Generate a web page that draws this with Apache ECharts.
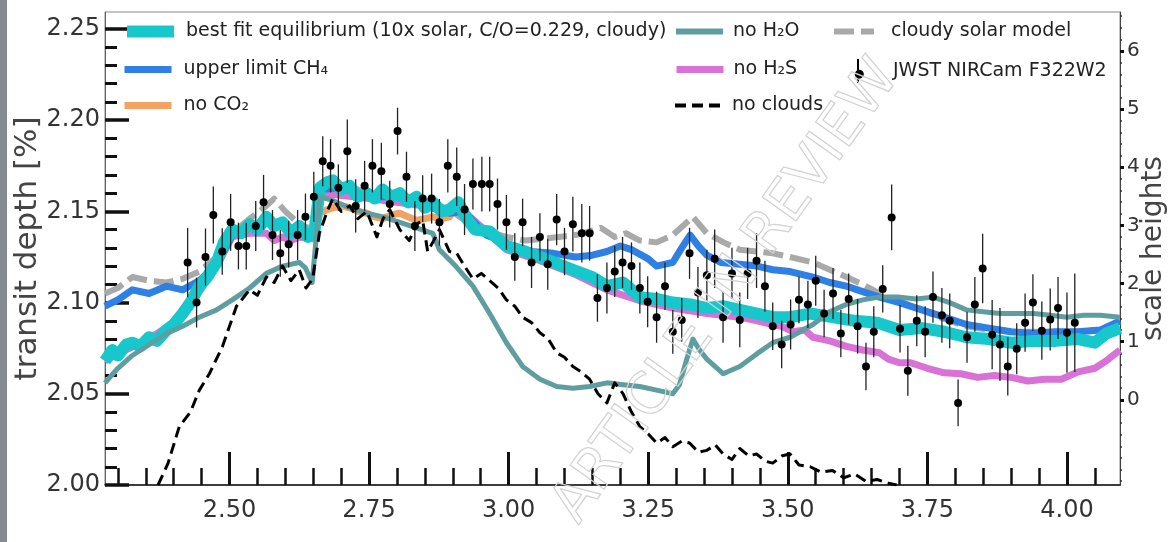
<!DOCTYPE html>
<html>
<head>
<meta charset="utf-8">
<script src="https://cdn.jsdelivr.net/npm/echarts@6/dist/echarts.min.js"></script>
<style>
html,body{margin:0;padding:0;background:#fff;}
#chart{width:1168px;height:542px;}
</style>
</head>
<body>
<div id="chart"></div>
<script>
// ---------- data ----------
const bestFitX = [2.277,2.29,2.30,2.315,2.326,2.34,2.356,2.37,2.387,2.40,2.416,2.43,2.446,2.46,2.477,2.49,2.505,2.52,2.536,2.55,2.566,2.58,2.595,2.61,2.625,2.64,2.652,2.662,2.675,2.685,2.70,2.715,2.73,2.746,2.76,2.774,2.79,2.805,2.82,2.835,2.85,2.864,2.88,2.894,2.91,2.925,2.94,2.966,2.996,3.03,3.056,3.09,3.115,3.15,3.176,3.205,3.235,3.265,3.294,3.325,3.355,3.385,3.414,3.445,3.473,3.504,3.54,3.58,3.62,3.66,3.70,3.74,3.78,3.82,3.86,3.90,3.94,3.98,4.02,4.05,4.07,4.095];
const bestFitY = [2.068,2.074,2.071,2.077,2.078,2.076,2.081,2.079,2.085,2.088,2.094,2.100,2.109,2.114,2.122,2.133,2.140,2.138,2.143,2.140,2.147,2.142,2.144,2.138,2.142,2.136,2.139,2.163,2.166,2.167,2.162,2.164,2.158,2.160,2.157,2.162,2.158,2.160,2.155,2.158,2.152,2.155,2.150,2.151,2.155,2.146,2.140,2.139,2.131,2.128,2.125,2.121,2.118,2.114,2.109,2.111,2.103,2.102,2.100,2.099,2.097,2.098,2.096,2.094,2.092,2.092,2.094,2.092,2.090,2.089,2.085,2.086,2.084,2.081,2.080,2.078,2.079,2.079,2.080,2.078,2.083,2.086];

const ch4X = [2.277,2.30,2.326,2.356,2.387,2.416,2.446,2.477,2.505,2.536,2.566,2.595,2.625,2.649,2.662,2.70,2.75,2.80,2.85,2.894,2.92,2.96,3.00,3.04,3.08,3.12,3.15,3.176,3.20,3.22,3.25,3.265,3.294,3.31,3.325,3.34,3.355,3.38,3.414,3.445,3.473,3.504,3.545,3.575,3.605,3.634,3.664,3.70,3.74,3.78,3.82,3.86,3.90,3.94,3.98,4.02,4.06,4.095];
const ch4Y = [2.098,2.1015,2.107,2.105,2.109,2.107,2.112,2.121,2.137,2.141,2.145,2.142,2.140,2.137,2.162,2.163,2.158,2.158,2.153,2.149,2.150,2.137,2.132,2.128,2.127,2.125,2.126,2.128,2.131,2.129,2.124,2.120,2.122,2.130,2.137,2.131,2.126,2.122,2.121,2.120,2.118,2.117,2.114,2.111,2.109,2.106,2.103,2.100,2.096,2.092,2.088,2.086,2.084,2.083,2.084,2.084,2.085,2.090];

const noCO2X = [2.277,2.29,2.30,2.315,2.326,2.34,2.356,2.37,2.387,2.40,2.416,2.43,2.446,2.46,2.477,2.49,2.505,2.52,2.536,2.55,2.566,2.58,2.595,2.61,2.625,2.64,2.652,2.662,2.675,2.685,2.70,2.715,2.73,2.746,2.76,2.774,2.79,2.805,2.82,2.835,2.85,2.864,2.88,2.894,2.91,2.925,2.94,2.966,2.996,3.03,3.056,3.09,3.115,3.15,3.176,3.205,3.235,3.265,3.294,3.325,3.355,3.385,3.414,3.445,3.473,3.504,3.54,3.58,3.62,3.66,3.70,3.74,3.78,3.82,3.86,3.90,3.94,3.98,4.02,4.05,4.07,4.095];
const noCO2Y = [2.068,2.074,2.071,2.077,2.078,2.076,2.081,2.079,2.085,2.088,2.094,2.100,2.109,2.114,2.122,2.133,2.140,2.138,2.143,2.140,2.147,2.142,2.144,2.138,2.142,2.136,2.139,2.149,2.151,2.152,2.153,2.152,2.150,2.149,2.147,2.146,2.148,2.149,2.147,2.145,2.146,2.147,2.146,2.147,2.155,2.146,2.140,2.139,2.131,2.128,2.125,2.121,2.118,2.114,2.109,2.111,2.103,2.102,2.100,2.099,2.097,2.098,2.096,2.094,2.092,2.092,2.094,2.092,2.090,2.089,2.085,2.086,2.084,2.081,2.080,2.078,2.079,2.079,2.080,2.078,2.083,2.086];

const noH2OX = [2.277,2.30,2.326,2.356,2.387,2.416,2.446,2.477,2.505,2.536,2.566,2.595,2.625,2.636,2.648,2.662,2.685,2.715,2.746,2.775,2.805,2.835,2.864,2.876,2.905,2.936,2.966,2.996,3.025,3.056,3.086,3.115,3.145,3.176,3.205,3.235,3.265,3.294,3.306,3.318,3.330,3.342,3.355,3.384,3.414,3.445,3.473,3.504,3.545,3.575,3.605,3.634,3.664,3.70,3.73,3.76,3.79,3.82,3.85,3.88,3.91,3.94,3.97,4.00,4.03,4.06,4.095];
const noH2OY = [2.056,2.064,2.071,2.077,2.083,2.087,2.092,2.096,2.1015,2.108,2.116,2.120,2.122,2.119,2.111,2.158,2.156,2.152,2.149,2.147,2.144,2.141,2.138,2.129,2.120,2.109,2.094,2.078,2.065,2.058,2.054,2.053,2.054,2.056,2.055,2.054,2.052,2.050,2.055,2.068,2.080,2.074,2.069,2.061,2.065,2.072,2.078,2.081,2.088,2.095,2.099,2.1015,2.103,2.103,2.102,2.103,2.100,2.096,2.095,2.094,2.094,2.094,2.093,2.092,2.093,2.093,2.092];

const noH2SX = [2.277,2.30,2.35,2.40,2.446,2.477,2.505,2.536,2.566,2.58,2.595,2.61,2.625,2.649,2.662,2.75,2.85,2.92,2.996,3.056,3.115,3.176,3.235,3.294,3.355,3.414,3.445,3.473,3.489,3.51,3.53,3.545,3.575,3.605,3.634,3.664,3.68,3.70,3.72,3.75,3.78,3.81,3.84,3.87,3.90,3.93,3.96,3.99,4.02,4.05,4.07,4.095];
const noH2SY = [2.068,2.072,2.079,2.089,2.106,2.120,2.136,2.138,2.138,2.134,2.136,2.134,2.136,2.135,2.160,2.157,2.153,2.150,2.129,2.123,2.116,2.107,2.101,2.097,2.094,2.092,2.090,2.088,2.087,2.084,2.085,2.081,2.079,2.076,2.074,2.0725,2.069,2.067,2.067,2.064,2.0615,2.061,2.059,2.060,2.059,2.057,2.058,2.058,2.062,2.064,2.068,2.074];

const noCloudsX = [2.372,2.39,2.41,2.43,2.446,2.464,2.4875,2.5125,2.536,2.55,2.566,2.58,2.595,2.61,2.625,2.637,2.649,2.661,2.675,2.685,2.70,2.715,2.73,2.746,2.764,2.775,2.787,2.805,2.822,2.835,2.846,2.855,2.864,2.876,2.894,2.907,2.921,2.936,2.951,2.966,2.981,2.996,3.011,3.025,3.041,3.056,3.071,3.086,3.10,3.115,3.13,3.145,3.16,3.176,3.19,3.205,3.22,3.235,3.25,3.265,3.28,3.294,3.31,3.324,3.34,3.355,3.37,3.384,3.40,3.414,3.43,3.444,3.46,3.473,3.49,3.504,3.52,3.54,3.56,3.58,3.60,3.62,3.64,3.66,3.68,3.695];
const noCloudsY = [2.000,2.012,2.032,2.040,2.052,2.061,2.076,2.098,2.107,2.104,2.114,2.111,2.120,2.112,2.118,2.108,2.113,2.138,2.150,2.157,2.150,2.153,2.146,2.150,2.136,2.146,2.151,2.140,2.134,2.143,2.145,2.128,2.133,2.140,2.128,2.127,2.120,2.113,2.116,2.112,2.108,2.1015,2.098,2.092,2.089,2.0835,2.080,2.0725,2.070,2.065,2.062,2.058,2.050,2.045,2.056,2.050,2.040,2.032,2.028,2.023,2.026,2.021,2.024,2.023,2.018,2.019,2.022,2.017,2.014,2.020,2.016,2.017,2.013,2.012,2.016,2.017,2.011,2.010,2.007,2.008,2.004,2.006,2.002,2.003,2.001,2.000];

const solarX = [2.277,2.30,2.326,2.356,2.387,2.416,2.446,2.477,2.505,2.536,2.566,2.58,2.60,2.625,2.649,2.662,2.70,2.75,2.80,2.85,2.894,2.94,2.996,3.03,3.06,3.09,3.12,3.145,3.165,3.19,3.21,3.235,3.265,3.294,3.33,3.355,3.385,3.414,3.445,3.473,3.504,3.545,3.575,3.605,3.634,3.664,3.70,3.74,3.78,3.82,3.86,3.90,3.94,3.98,4.02,4.06,4.095];
const solarY = [2.105,2.108,2.114,2.112,2.111,2.113,2.117,2.125,2.138,2.146,2.153,2.157,2.150,2.143,2.140,2.164,2.165,2.160,2.159,2.155,2.151,2.141,2.136,2.134,2.135,2.136,2.137,2.139,2.141,2.136,2.138,2.134,2.133,2.137,2.147,2.138,2.133,2.129,2.128,2.127,2.125,2.122,2.118,2.114,2.110,2.105,2.101,2.096,2.091,2.087,2.085,2.084,2.084,2.084,2.084,2.085,2.088];

const obsX = [2.425,2.441,2.457,2.471,2.487,2.502,2.516,2.530,2.547,2.561,2.577,2.591,2.606,2.622,2.636,2.651,2.667,2.681,2.695,2.711,2.726,2.742,2.756,2.772,2.787,2.801,2.817,2.832,2.846,2.862,2.876,2.891,
  2.907,2.921,2.936,2.952,2.966,2.980,2.996,3.011,3.025,3.041,3.056,3.070,3.086,3.100,3.115,3.131,3.145,3.159,3.176,3.190,3.204,3.220,3.235,3.249,3.265,3.280,3.294,3.310,3.324,3.339,3.355,3.369,3.384,3.400,3.414,3.428,3.444,3.459,3.473,3.489,
  3.505,3.520,3.536,3.550,3.565,3.581,3.595,3.609,3.625,3.640,3.654,3.670,3.686,3.701,3.715,3.731,3.746,3.760,3.776,3.790,3.805,3.821,3.835,3.849,3.866,3.880,3.894,3.910,3.925,3.939,3.955,3.970,3.984,4.000,4.014];
const obsY = [2.122,2.100,2.125,2.148,2.128,2.144,2.131,2.131,2.142,2.155,2.137,2.127,2.132,2.137,2.147,2.158,2.1775,2.175,2.163,2.183,2.153,2.164,2.175,2.172,2.154,2.194,2.169,2.142,2.157,2.157,2.144,2.175,
  2.169,2.151,2.165,2.165,2.165,2.154,2.144,2.125,2.144,2.122,2.136,2.121,2.1455,2.128,2.143,2.138,2.138,2.1025,2.108,2.117,2.122,2.120,2.108,2.1005,2.092,2.109,2.084,2.0905,2.127,2.1055,2.115,2.124,2.092,2.116,2.0905,2.116,2.123,2.109,2.087,2.077,
  2.088,2.1015,2.099,2.112,2.094,2.105,2.083,2.102,2.087,2.065,2.084,2.1075,2.1467,2.0857,2.0626,2.090,2.084,2.103,2.093,2.090,2.045,2.081,2.099,2.1187,2.0824,2.077,2.065,2.0747,2.089,2.100,2.0846,2.0907,2.097,2.0835,2.089];
const obsErr = [0.019,0.0137,0.0156,0.0156,0.0128,0.0156,0.0128,0.0128,0.0137,0.015,0.0137,0.0128,0.0128,0.0137,0.0128,0.0137,0.0137,0.0146,0.0128,0.0174,0.0146,0.0137,0.0146,0.0156,0.0128,0.0128,0.0137,0.0137,0.0128,0.0137,0.0128,0.0146,
  0.016,0.014,0.014,0.015,0.015,0.014,0.015,0.013,0.013,0.014,0.013,0.014,0.014,0.013,0.015,0.016,0.015,0.013,0.014,0.014,0.014,0.013,0.014,0.014,0.014,0.013,0.012,0.012,0.014,0.014,0.014,0.016,0.014,0.014,0.015,0.014,0.015,0.014,0.013,0.013,
  0.0137,0.0128,0.013,0.0137,0.013,0.014,0.013,0.014,0.015,0.013,0.014,0.013,0.018,0.013,0.0137,0.014,0.014,0.014,0.015,0.015,0.0128,0.014,0.015,0.019,0.019,0.020,0.016,0.014,0.016,0.0156,0.016,0.017,0.017,0.022,0.027];

// axis ticks / labels
const xMajorTicks = [2.50,2.75,3.00,3.25,3.50,3.75,4.00];
const xMinorTicks = [2.30,2.35,2.40,2.45,2.55,2.60,2.65,2.70,2.80,2.85,2.90,2.95,3.05,3.10,3.15,3.20,3.30,3.35,3.40,3.45,3.55,3.60,3.65,3.70,3.80,3.85,3.90,3.95,4.05];
const yMajorTicks = [2.00,2.05,2.10,2.15,2.20,2.25];
const yMinorTicks = [2.01,2.02,2.03,2.04,2.06,2.07,2.08,2.09,2.11,2.12,2.13,2.14,2.16,2.17,2.18,2.19,2.21,2.22,2.23,2.24];
const shMajorTicks = [0,1,2,3,4,5,6];
const shMinorTicks = [-1.4,-1.2,-1.0,-0.8,-0.6,-0.4,-0.2,0.2,0.4,0.6,0.8,1.2,1.4,1.6,1.8,2.2,2.4,2.6,2.8,3.2,3.4,3.6,3.8,4.2,4.4,4.6,4.8,5.2,5.4,5.6,5.8,6.2,6.4,6.6];

const names = {
  best: 'best fit equilibrium (10x solar, C/O=0.229, cloudy)',
  ch4: 'upper limit CH\u2084',
  co2: 'no CO\u2082',
  h2o: 'no H\u2082O',
  h2s: 'no H\u2082S',
  clouds: 'no clouds',
  solar: 'cloudy solar model',
  obs: 'JWST NIRCam F322W2'
};

// ---------- chart ----------
const FONT = "'DejaVu Sans', sans-serif";
const X_MIN = 2.277, X_MAX = 4.095;
const Y_MIN = 2.00, Y_MAX = 2.2593;
const SH_MIN = -1.465, SH_MAX = 6.671;

function zip(xs, ys) {
  const n = Math.min(xs.length, ys.length);
  const out = [];
  for (let i = 0; i < n; i++) out.push([xs[i], ys[i]]);
  return out;
}
function lineSeries(name, xs, ys, color, width, dash, z) {
  return {
    type: 'line', name: name, data: zip(xs, ys),
    symbol: 'none', showSymbol: false, smooth: false, clip: true,
    lineStyle: { color: color, width: width, type: dash || 'solid', join: 'round', cap: 'butt' },
    itemStyle: { color: color },
    z: z, silent: true
  };
}

const obsData = [];
for (let i = 0; i < Math.min(obsX.length, obsY.length, obsErr.length); i++) {
  obsData.push([obsX[i], obsY[i], obsErr[i]]);
}

function leg(name, left, top, w, h, pad, lw, extra) {
  const l = {
    data: [Object.assign({ name: name }, extra || {})],
    left: left, top: top, orient: 'vertical', padding: 0,
    itemWidth: w, itemHeight: h, selectedMode: false,
    formatter: function (n) { return '{t|' + n + '}'; },
    textStyle: {
      fontFamily: FONT, fontSize: 19, color: '#222',
      rich: { t: { fontFamily: FONT, fontSize: 19, color: '#222', lineHeight: 22, padding: [0, 0, 0, pad] } }
    }
  };
  if (lw) {
    l.lineStyle = { width: lw };
    l.itemStyle = { opacity: 0 };
  } else {
    l.symbolKeepAspect = false;
  }
  return l;
}

const chart = echarts.init(document.getElementById('chart'), null, { renderer: 'canvas' });
const option = {
  animation: false,
  backgroundColor: '#ffffff',
  grid: { left: 105, right: 48, top: 12, bottom: 57, containLabel: false, outerBoundsMode: 'none',
    show: true, borderColor: '#888', borderWidth: 1, backgroundColor: 'transparent' },
  legend: [
    leg(names.best, 121, 22, 47, 14, 7, 12),
    leg(names.ch4, 121, 60, 47, 14, 7, 7),
    leg(names.co2, 121, 96, 47, 14, 7, 7),
    leg(names.h2o, 673, 22, 47, 14, 5, 6),
    leg(names.h2s, 673, 60, 47, 14, 5, 7),
    leg(names.clouds, 673, 96, 47, 14, 5, 4),
    leg(names.solar, 831, 22, 40, 14, 12, 6),
    leg(names.obs, 838, 59, 40, 24, 10, 0, { icon: 'path://M0,12 L0.01,12 L0.01,12.01 Z M40,12 L39.99,12 L39.99,12.01 Z M19,0 L21,0 L21,24 L19,24 Z M24.5,12 A4.5,4.5 0 1 1 24.49,11.99 Z' })
  ],
  xAxis: [
    {
      type: 'value', min: X_MIN, max: X_MAX, position: 'bottom',
      axisLine: { show: true, onZero: false, lineStyle: { color: '#111', width: 1.5 } },
      axisTick: { show: true, inside: true, length: 33, customValues: xMajorTicks, lineStyle: { color: '#111', width: 3 } },
      axisLabel: { show: true, customValues: xMajorTicks, margin: 14, fontFamily: FONT, fontSize: 24, color: '#333',
        formatter: function (v) { return v.toFixed(2); } },
      splitLine: { show: false }
    },
    {
      type: 'value', min: X_MIN, max: X_MAX, position: 'bottom',
      axisLine: { show: false, onZero: false },
      axisTick: { show: true, inside: true, length: 17, customValues: xMinorTicks, lineStyle: { color: '#111', width: 2.5 } },
      axisLabel: { show: false },
      splitLine: { show: false }
    }
  ],
  yAxis: [
    {
      type: 'value', min: Y_MIN, max: Y_MAX, position: 'left',
      name: 'transit depth [%]', nameLocation: 'middle', nameGap: 62, nameRotate: 90, nameMoveOverlap: false,
      nameTextStyle: { fontFamily: FONT, fontSize: 31, color: '#444' },
      axisLine: { show: true, onZero: false, lineStyle: { color: '#666', width: 1 } },
      axisTick: { show: true, inside: true, length: 24, customValues: yMajorTicks, lineStyle: { color: '#111', width: 3.5 } },
      axisLabel: { show: true, customValues: yMajorTicks, margin: 5, fontFamily: FONT, fontSize: 24, color: '#333',
        formatter: function (v) { return v.toFixed(2); } },
      splitLine: { show: false }
    },
    {
      type: 'value', min: Y_MIN, max: Y_MAX, position: 'left',
      axisLine: { show: false, onZero: false },
      axisTick: { show: true, inside: true, length: 12, customValues: yMinorTicks, lineStyle: { color: '#111', width: 3 } },
      axisLabel: { show: false },
      splitLine: { show: false }
    },
    {
      type: 'value', min: SH_MIN, max: SH_MAX, position: 'right',
      name: 'scale heights', nameLocation: 'middle', nameGap: 20, nameRotate: 90, nameMoveOverlap: false,
      nameTextStyle: { fontFamily: FONT, fontSize: 28, color: '#444' },
      axisLine: { show: true, onZero: false, lineStyle: { color: '#444', width: 1 } },
      axisTick: { show: true, inside: false, length: 4, customValues: shMajorTicks, lineStyle: { color: '#111', width: 3 } },
      axisLabel: { show: true, customValues: shMajorTicks, margin: 7, fontFamily: FONT, fontSize: 20, color: '#333',
        formatter: function (v) { return String(Math.round(v)); } },
      splitLine: { show: false }
    },
    {
      type: 'value', min: SH_MIN, max: SH_MAX, position: 'right',
      axisLine: { show: false, onZero: false },
      axisTick: { show: true, inside: false, length: 2, customValues: shMinorTicks, lineStyle: { color: '#333', width: 1.5 } },
      axisLabel: { show: false },
      splitLine: { show: false }
    }
  ],
  series: [
    lineSeries(names.solar, solarX, solarY, '#a9a9a9', 6, [20, 7], 2),
    lineSeries(names.co2, noCO2X, noCO2Y, '#f2a263', 7, 'solid', 2),
    lineSeries(names.h2s, noH2SX, noH2SY, '#d872d6', 7, 'solid', 2),
    lineSeries(names.ch4, ch4X, ch4Y, '#2f80e4', 7, 'solid', 2),
    lineSeries(names.best, bestFitX, bestFitY, '#16c8cb', 12, 'solid', 2),
    lineSeries(names.h2o, noH2OX, noH2OY, '#5f9ea0', 5, 'solid', 2),
    lineSeries(names.clouds, noCloudsX, noCloudsY, '#000000', 3, [11, 6], 2),
    {
      type: 'custom', name: names.obs, data: obsData, z: 3, silent: true,
      itemStyle: { color: '#000' },
      encode: { x: 0, y: 1 },
      renderItem: function (params, api) {
        const x = api.value(0), y = api.value(1), e = api.value(2);
        const p = api.coord([x, y]);
        const t = api.coord([x, y + e]);
        const b = api.coord([x, y - e]);
        return {
          type: 'group',
          children: [
            { type: 'line', shape: { x1: p[0], y1: t[1], x2: p[0], y2: b[1] }, style: { stroke: '#222', lineWidth: 1.3 } },
            { type: 'circle', shape: { cx: p[0], cy: p[1], r: 4 }, style: { fill: '#000' } }
          ]
        };
      }
    }
  ],
  graphic: [
    { type: 'rect', left: 0, top: 0, shape: { width: 7, height: 542 }, style: { fill: '#858b92' }, z: 100, silent: true },
    { type: 'text', x: 727, y: 292, rotation: 0.95, z: 50, silent: true,
      style: { text: 'ARTICLE IN REVIEW', font: "57px 'DejaVu Sans'", fill: 'rgba(255,255,255,0)', stroke: '#d2d2d2', lineWidth: 1.2,
        align: 'center', verticalAlign: 'middle' } }
  ]
};
chart.setOption(option);
</script>
</body>
</html>
